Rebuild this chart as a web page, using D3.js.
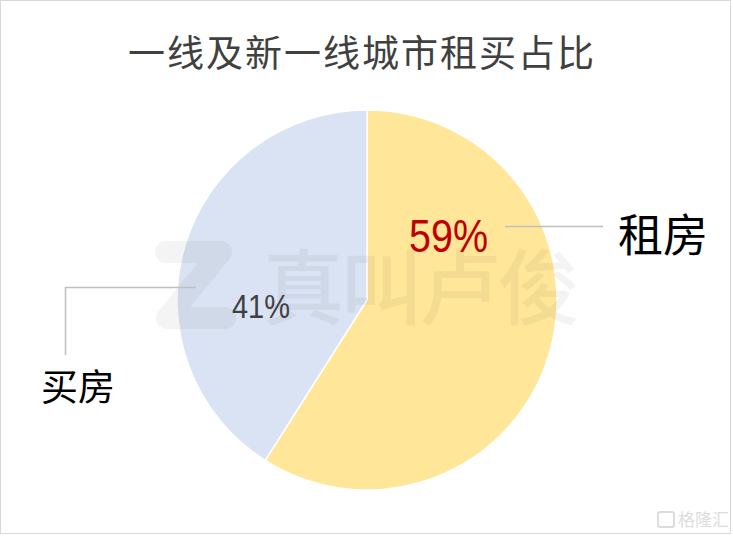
<!DOCTYPE html>
<html><head><meta charset="utf-8">
<script src="https://cdn.jsdelivr.net/npm/d3@7"></script>
<style>
html,body{margin:0;padding:0;background:#fff;}
svg{display:block;}
</style></head>
<body>
<svg id="chart" width="733" height="536"></svg>
<script>
const title = "一线及新一线城市租买占比";
const categories = ["租房", "买房"];
const values = [59, 41];
const valueLabels = ["59%", "41%"];
const colors = ["#FFE699", "#DAE3F3"];

const svg = d3.select("#chart");
const cx = 367, cy = 300, R = 190;
const cjk = "'Noto Sans CJK SC','Noto Sans CJK JP',sans-serif";
const latin = "'Liberation Sans',Arial,sans-serif";

svg.append("rect").attr("x",0.5).attr("y",0.5).attr("width",730).attr("height",533)
  .attr("fill","#fff").attr("stroke","#d9d9d9").attr("stroke-width",1);

svg.append("text").attr("x",128).attr("y",51)
  .attr("dominant-baseline","central")
  .attr("font-family",cjk).attr("font-size",37)
  .attr("textLength",466).attr("lengthAdjust","spacing")
  .attr("fill","#404040").text(title);

const pie = d3.pie().sort(null).value(d => d);
const arc = d3.arc().innerRadius(0).outerRadius(R);
const g = svg.append("g").attr("transform",`translate(${cx},${cy})`);
g.selectAll("path").data(pie(values)).join("path")
  .attr("d",arc).attr("fill",(d,i)=>colors[i])
  .attr("stroke","#fff").attr("stroke-width",1.5);

// watermark
const wm = svg.append("g").attr("opacity",0.045);
wm.append("path")
  .attr("d","M166,252 L221,252 L167,318 L225,318")
  .attr("fill","none").attr("stroke","#000").attr("stroke-width",22)
  .attr("stroke-linecap","round").attr("stroke-linejoin","round");
wm.append("text").attr("x",262).attr("y",282)
  .attr("dominant-baseline","central").attr("font-family",cjk).attr("font-weight",500)
  .attr("font-size",82).attr("textLength",318).attr("lengthAdjust","spacing")
  .attr("fill","#000").text("真叫卢俊");

// value labels
svg.append("text").attr("x",409).attr("y",252)
  .attr("font-family",latin).attr("font-size",46).attr("fill","#C00000")
  .attr("textLength",79).attr("lengthAdjust","spacingAndGlyphs")
  .text(valueLabels[0]);
svg.append("text").attr("x",232).attr("y",318)
  .attr("font-family",latin).attr("font-size",33).attr("fill","#404040")
  .attr("textLength",58).attr("lengthAdjust","spacingAndGlyphs")
  .text(valueLabels[1]);

// leader lines
svg.append("path").attr("d","M505,226.5 L603,226.5").attr("stroke","#bfbfbf")
  .attr("stroke-width",1.5).attr("fill","none");
svg.append("path").attr("d","M196,287.5 L65.5,287.5 L65.5,355").attr("stroke","#bfbfbf")
  .attr("stroke-width",1.5).attr("fill","none");

// category labels
svg.append("text").attr("x",663).attr("y",232).attr("text-anchor","middle")
  .attr("dominant-baseline","central").attr("font-family",cjk).attr("font-size",45)
  .attr("fill","#000").text(categories[0]);
svg.append("text").attr("x",78).attr("y",385).attr("text-anchor","middle")
  .attr("dominant-baseline","central").attr("font-family",cjk).attr("font-size",37)
  .attr("fill","#000").text(categories[1]);

// bottom-right logo
const lg = svg.append("g").attr("opacity",0.22);
lg.append("rect").attr("x",658).attr("y",512).attr("width",16).attr("height",15).attr("rx",2)
  .attr("fill","none").attr("stroke","#666").attr("stroke-width",2);
lg.append("text").attr("x",678).attr("y",526).attr("font-family",cjk).attr("font-size",17)
  .attr("fill","#666").text("格隆汇");
</script>
</body></html>
